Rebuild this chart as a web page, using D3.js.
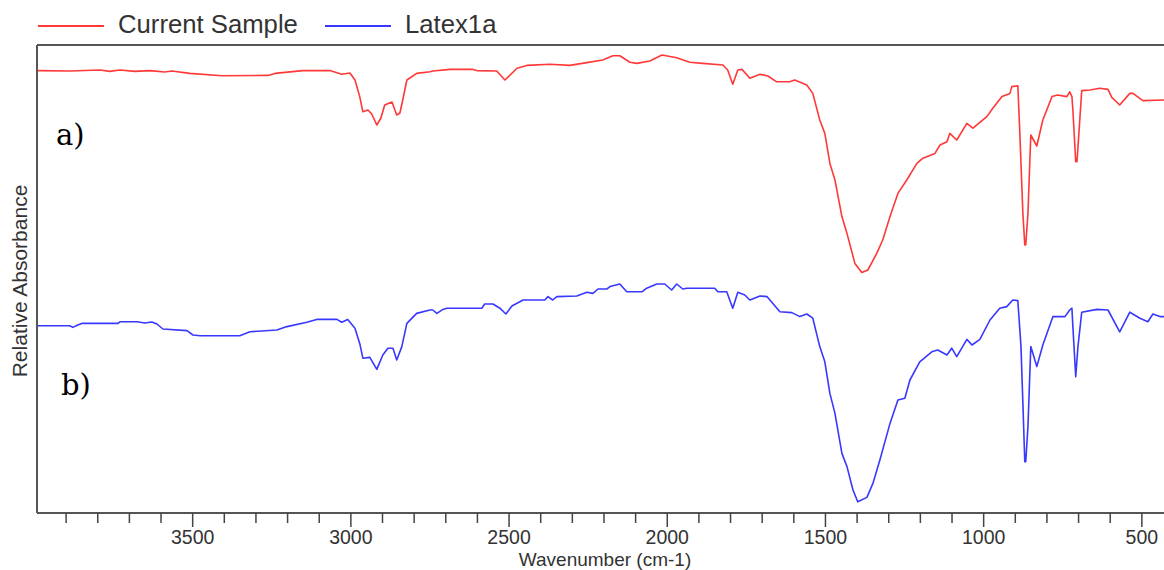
<!DOCTYPE html>
<html>
<head>
<meta charset="utf-8">
<script src="https://cdn.jsdelivr.net/npm/d3@7"></script>
<style>
  html, body { margin: 0; padding: 0; background: #fff; }
  svg { display: block; }
</style>
</head>
<body>
<svg id="chart" width="1164" height="570"></svg>
<script>
// ---- DATA ----
const seriesNames = ["Current Sample", "Latex1a"];
const panelLabels = ["a)", "b)"];
const xTickValues = [3500, 3000, 2500, 2000, 1500, 1000, 500];
const xAxisTitle = "Wavenumber (cm-1)";
const yAxisTitle = "Relative Absorbance";

// wavenumber (cm-1)
const currentSampleWave = [3992,3888,3793,3762,3730,3683,3635,3588,3566,3509,3408,3262,3240,3152,3066,3029,3003,2987,2972,2962,2946,2934,2918,2905,2893,2870,2855,2845,2836,2823,2792,2750,2741,2687,2614,2602,2539,2513,2475,2444,2371,2308,2254,2204,2172,2150,2118,2096,2055,2017,1970,1929,1888,1824,1809,1793,1777,1764,1739,1707,1682,1654,1613,1597,1559,1540,1518,1502,1486,1470,1448,1432,1407,1385,1366,1338,1319,1296,1271,1243,1211,1192,1154,1138,1116,1107,1085,1053,1034,990,971,942,917,911,892,886,876,870,867,860,851,832,813,784,766,737,728,721,718,709,705,699,690,664,633,607,595,570,538,528,497,430];
// relative absorbance (offset, arbitrary units)
const currentSampleAbs = [110.6,110.5,110.75,110.4,110.75,110.4,110.6,110.25,110.5,109.9,109.3,109.4,109.9,110.6,110.6,109.7,110,108.25,104.1,100.3,100.75,99.75,97,98.75,102,102.75,99.5,100,103.25,108.25,109.9,110.3,110.5,110.9,110.9,110.6,110.5,108.25,111.2,111.9,112.2,111.9,112.6,113.25,114.3,114.3,112.7,112.4,113,114.5,113.8,112.7,112.4,112,110.75,107.2,110.75,110.9,108.7,109.7,109.25,107.8,107.8,108.25,107,104.9,98.25,94.9,87.4,83.25,74.1,69.9,62.4,60.1,60.75,64.9,68.25,74.1,79.9,83.25,87.4,88.7,89.9,92,92.8,94.9,93.25,97.4,96.2,99.1,101.2,104.1,104.9,106.6,106.8,95.75,74.9,67,67,74.9,94.5,91.75,98.25,104.1,104.5,104.1,105.3,104.1,100.75,87.8,87.8,94.9,105.6,105.75,106.2,105.9,103.9,102,104.9,104.9,103.1,103.25];

const latexWave = [3992,3888,3879,3863,3850,3736,3730,3676,3651,3629,3613,3594,3518,3499,3477,3351,3319,3234,3202,3139,3108,3044,3029,3010,2987,2972,2962,2940,2918,2899,2883,2867,2855,2839,2823,2792,2750,2741,2728,2709,2697,2586,2577,2551,2529,2510,2491,2466,2456,2387,2377,2362,2349,2286,2254,2235,2219,2191,2181,2150,2128,2080,2065,2033,2008,1986,1970,1951,1938,1850,1840,1812,1793,1777,1755,1739,1707,1685,1644,1606,1581,1559,1540,1518,1502,1486,1470,1448,1432,1413,1398,1369,1350,1328,1296,1271,1249,1233,1202,1164,1145,1116,1101,1085,1053,1037,1012,980,949,927,908,892,882,876,870,867,860,851,832,813,781,743,728,721,718,709,702,690,642,607,570,538,506,481,465,443,430];
const latexAbs = [46.8,46.8,46.4,47,47.4,47.4,47.8,47.8,47.5,47.75,47.25,46,45.6,44.5,44.3,44.3,45.3,45.75,46.6,47.7,48.4,48.4,47.7,48.4,46.2,42.4,38.7,38.9,35.9,39.5,41.2,41.2,38.25,41.6,47.4,49.9,50.75,50.75,49.9,50.9,51.2,51.2,52.25,52.25,51.2,49.75,51.75,52.8,53.25,53.25,54.1,53.25,54.1,54.25,55.2,54.9,56,56,56.6,57.25,55.3,55.3,56.2,57.25,57.25,55.75,57.25,56,56.2,56.2,55.3,55.3,51.2,55.2,54.5,53.25,54.25,54.1,50.3,50.1,49.1,49.75,48.7,41.6,37.8,29.9,24.9,14.9,11.6,5.75,2.8,3.9,7.4,13.25,22.4,28.25,28.7,33.25,37.8,40.3,40.75,39.5,41.2,39.1,43.4,42,43.4,48.25,51.2,51.6,53.25,53.1,41.6,27.4,12.8,12.8,21.6,41.6,36.6,42,49.1,49.1,50.75,51.2,46.6,34.1,41.6,50.2,50.9,50.75,45.3,50.2,48.7,47.8,49.75,49.1,49.1];

const seriesColors = ["#ff3838", "#3838ff"];

// ---- CHART ----
const svg = d3.select("#chart");
const plot = { left: 37, right: 1164, top: 45, bottom: 513 };

const x = d3.scaleLinear().domain([3992, 430]).range([plot.left, plot.right]);
const y = d3.scaleLinear().domain([0, 117]).range([plot.bottom, plot.top]);

const series = [
  { name: seriesNames[0], color: seriesColors[0], data: currentSampleWave.map((w, i) => [w, currentSampleAbs[i]]) },
  { name: seriesNames[1], color: seriesColors[1], data: latexWave.map((w, i) => [w, latexAbs[i]]) }
];

// frame: top and left
svg.append("line").attr("x1", plot.left).attr("x2", plot.right + 2)
  .attr("y1", plot.top).attr("y2", plot.top)
  .attr("stroke", "#555").attr("stroke-width", 2);
svg.append("line").attr("x1", plot.left).attr("x2", plot.left)
  .attr("y1", plot.top).attr("y2", plot.bottom)
  .attr("stroke", "#555").attr("stroke-width", 2);

// lines
svg.append("clipPath").attr("id", "clip").append("rect")
  .attr("x", plot.left + 1).attr("y", plot.top + 1)
  .attr("width", plot.right - plot.left).attr("height", plot.bottom - plot.top - 2);

const line = d3.line().x(d => x(d[0])).y(d => y(d[1]));
svg.append("g").attr("clip-path", "url(#clip)")
  .selectAll("path").data(series).join("path")
  .attr("d", d => line(d.data))
  .attr("fill", "none")
  .attr("stroke", d => d.color)
  .attr("stroke-width", 1.6)
  .attr("stroke-linejoin", "round");

// x axis
const minorTicks = d3.range(3900, 400, -100).filter(v => v % 500 !== 0);
const axisG = svg.append("g").attr("transform", `translate(0,${plot.bottom})`);
axisG.append("line").attr("x1", plot.left).attr("x2", plot.right + 2)
  .attr("stroke", "#555").attr("stroke-width", 2);
axisG.selectAll("line.minor").data(minorTicks).join("line")
  .attr("class", "minor")
  .attr("x1", d => x(d)).attr("x2", d => x(d))
  .attr("y1", 0).attr("y2", 10)
  .attr("stroke", "#444").attr("stroke-width", 1.5);
axisG.selectAll("line.major").data(xTickValues).join("line")
  .attr("class", "major")
  .attr("x1", d => x(d)).attr("x2", d => x(d))
  .attr("y1", 0).attr("y2", 14)
  .attr("stroke", "#444").attr("stroke-width", 1.5);
axisG.selectAll("text").data(xTickValues).join("text")
  .attr("x", d => x(d)).attr("y", 31)
  .attr("text-anchor", "middle")
  .attr("font-family", "'Liberation Sans', Arial, sans-serif")
  .attr("font-size", 19.5)
  .attr("fill", "#333")
  .text(d => d);

svg.append("text")
  .attr("x", 605).attr("y", 566)
  .attr("text-anchor", "middle")
  .attr("font-family", "'Liberation Sans', Arial, sans-serif")
  .attr("font-size", 19)
  .attr("fill", "#333")
  .text(xAxisTitle);

svg.append("text")
  .attr("transform", "translate(27,281) rotate(-90)")
  .attr("text-anchor", "middle")
  .attr("font-family", "'Liberation Sans', Arial, sans-serif")
  .attr("font-size", 21)
  .attr("fill", "#333")
  .text(yAxisTitle);

// legend
const legendPos = [{ lx: 38, tx: 118 }, { lx: 325, tx: 405 }];
series.forEach((s, i) => {
  svg.append("line")
    .attr("x1", legendPos[i].lx).attr("x2", legendPos[i].lx + 66)
    .attr("y1", 26).attr("y2", 26)
    .attr("stroke", s.color).attr("stroke-width", 2);
  svg.append("text")
    .attr("x", legendPos[i].tx).attr("y", 33)
    .attr("font-family", "'Liberation Sans', Arial, sans-serif")
    .attr("font-size", 25.7)
    .attr("fill", "#333")
    .text(s.name);
});

// panel labels
const panelPos = [{ px: 56, py: 145 }, { px: 61, py: 395 }];
panelLabels.forEach((t, i) => {
  svg.append("text")
    .attr("x", panelPos[i].px).attr("y", panelPos[i].py)
    .attr("font-family", "'DejaVu Serif', 'Liberation Serif', serif")
    .attr("font-size", 29)
    .attr("fill", "#000")
    .text(t);
});
</script>
</body>
</html>
